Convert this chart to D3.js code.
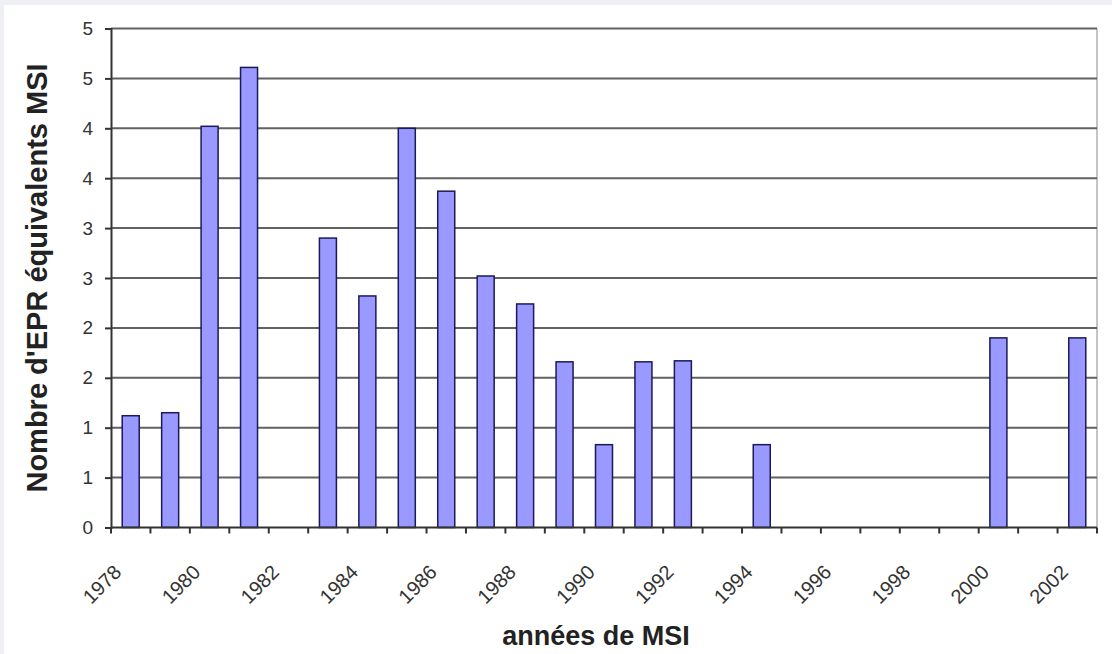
<!DOCTYPE html>
<html>
<head>
<meta charset="utf-8">
<script src="https://cdn.jsdelivr.net/npm/d3@7"></script>
<style>
  html, body { margin: 0; padding: 0; background: #eef0f3; }
  svg { display: block; }
  text { font-family: "Liberation Sans", Arial, sans-serif; }
</style>
</head>
<body>
<svg id="chart" width="1112" height="654"></svg>
<script>
const years = d3.range(1978, 2003).map(String);
const values = [1.12, 1.15, 4.02, 4.61, 0, 2.90, 2.32, 4.00, 3.37, 2.52, 2.24, 1.66, 0.83, 1.66, 1.67, 0, 0.83, 0, 0, 0, 0, 0, 1.90, 0, 1.90];
const yTickValues = [0, 0.5, 1, 1.5, 2, 2.5, 3, 3.5, 4, 4.5, 5];
const yTickLabels = ["0", "1", "1", "2", "2", "3", "3", "4", "4", "5", "5"];
const xLabelYears = ["1978","1980","1982","1984","1986","1988","1990","1992","1994","1996","1998","2000","2002"];
const yTitle = "Nombre d'EPR équivalents MSI";
const xTitle = "années de MSI";

const data = years.map((yr, i) => ({ year: yr, value: values[i] }));

const svg = d3.select("#chart");
svg.append("rect").attr("x", 4).attr("y", 5).attr("width", 1108).attr("height", 649).attr("fill", "#ffffff");

const mLeft = 111, mRight = 1097, mTop = 28.5, mBottom = 527.5;

const x = d3.scaleBand().domain(years).range([mLeft, mRight]).paddingInner(0).paddingOuter(0);
const y = d3.scaleLinear().domain([0, 5]).range([mBottom, mTop]);

// right border
svg.append("line").attr("x1", mRight).attr("x2", mRight).attr("y1", mTop).attr("y2", mBottom)
  .attr("stroke", "#b0b0b0").attr("stroke-width", 1.5);

// gridlines
svg.append("g").selectAll("line").data(yTickValues.filter(d => d > 0)).join("line")
  .attr("x1", mLeft).attr("x2", mRight)
  .attr("y1", d => y(d)).attr("y2", d => y(d))
  .attr("stroke", "#626262").attr("stroke-width", 2);

// bars
const bw = 17;
svg.append("g").selectAll("rect").data(data.filter(d => d.value > 0)).join("rect")
  .attr("x", d => x(d.year) + x.bandwidth() / 2 - bw / 2)
  .attr("y", d => y(d.value))
  .attr("width", bw)
  .attr("height", d => y(0) - y(d.value))
  .attr("fill", "#9999ff")
  .attr("stroke", "#1a1a5a")
  .attr("stroke-width", 1.5);

// y axis
const yAxis = d3.axisLeft(y).tickValues(yTickValues)
  .tickFormat((d, i) => yTickLabels[i]).tickSize(6).tickPadding(12);
const gy = svg.append("g").attr("transform", `translate(${mLeft},0)`).call(yAxis);
gy.select(".domain").attr("stroke", "#333").attr("stroke-width", 2);
gy.selectAll(".tick line").attr("stroke", "#333").attr("stroke-width", 2);
gy.selectAll(".tick text").attr("font-size", 19).attr("fill", "#333").attr("font-family", "Liberation Sans, Arial, sans-serif");

// x axis: ticks at category boundaries
const boundaries = years.map(d => x(d)).concat([mRight]);
const gx = svg.append("g");
gx.append("line").attr("x1", mLeft).attr("x2", mRight).attr("y1", mBottom).attr("y2", mBottom)
  .attr("stroke", "#333").attr("stroke-width", 2);
gx.selectAll("line.tk").data(boundaries).join("line").attr("class", "tk")
  .attr("x1", d => d).attr("x2", d => d).attr("y1", mBottom).attr("y2", mBottom + 6)
  .attr("stroke", "#333").attr("stroke-width", 2);
gx.selectAll("text").data(xLabelYears).join("text")
  .attr("transform", d => `translate(${x(d) + x.bandwidth() / 2 - 8},${mBottom + 46}) rotate(-45)`)
  .attr("text-anchor", "end")
  .attr("font-size", 20)
  .attr("fill", "#333")
  .text(d => d);

// titles
svg.append("text")
  .attr("transform", `translate(47,${(mTop + mBottom) / 2}) rotate(-90)`)
  .attr("text-anchor", "middle")
  .attr("font-size", 29).attr("font-weight", "bold").attr("fill", "#222")
  .text(yTitle);
svg.append("text")
  .attr("x", 596).attr("y", 645)
  .attr("text-anchor", "middle")
  .attr("font-size", 27).attr("font-weight", "bold").attr("fill", "#222")
  .text(xTitle);
</script>
</body>
</html>
